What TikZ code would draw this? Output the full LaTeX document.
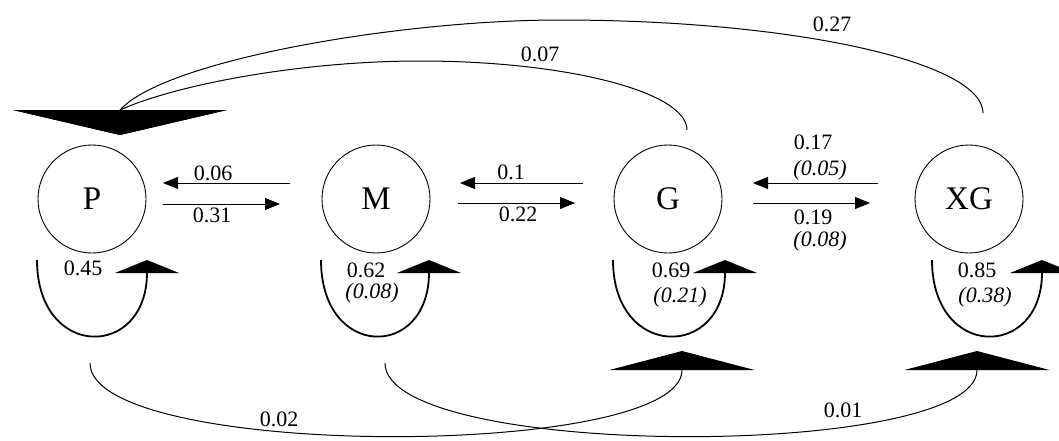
\documentclass[tikz,border=0pt]{standalone}
\usepackage{fontspec}
\setmainfont{Liberation Serif}
\usetikzlibrary{arrows.meta}
\begin{document}
\begin{tikzpicture}[x=1pt,y=-1pt,
  state/.style={circle,draw,line width=0.9pt,minimum size=108pt,inner sep=0pt,
    font=\fontsize{33}{36}\selectfont},
  lbl/.style={inner sep=0pt,font=\fontsize{22}{24}\selectfont},
  ilbl/.style={inner sep=0pt,font=\fontsize{22}{24}\selectfont\itshape},
  flow/.style={line width=0.9pt,-{Triangle[length=15pt,width=12pt]}},
  selfloop/.style={line width=1.8pt,-{Triangle[length=13pt,width=64pt]}},
  lowarc/.style={line width=1pt,-{Triangle[length=19pt,width=145pt]}},
  toparc/.style={line width=1pt,-{Triangle[length=25pt,width=214pt]}},
]
\useasboundingbox (0,0) rectangle (1059,440);

% states
\node[state] (P)  at (92,199)  {P};
\node[state] (M)  at (376,199) {M};
\node[state] (G)  at (668,199) {G};
\node[state] (XG) at (969,199) {XG};

% transitions between neighbouring states
\coordinate (pmA) at (290,183); \coordinate (pmB) at (163,183);
\coordinate (pmC) at (163,204); \coordinate (pmD) at (280,204);
\coordinate (mgA) at (583,183); \coordinate (mgB) at (460,183);
\coordinate (mgC) at (458,203); \coordinate (mgD) at (575,203);
\coordinate (gxA) at (878,183); \coordinate (gxB) at (753,183);
\coordinate (gxC) at (753,203); \coordinate (gxD) at (870,203);
\draw[flow] (pmA) -- (pmB);
\draw[flow] (pmC) -- (pmD);
\draw[flow] (mgA) -- (mgB);
\draw[flow] (mgC) -- (mgD);
\draw[flow] (gxA) -- (gxB);
\draw[flow] (gxC) -- (gxD);

\node[lbl]  (l06) at (213,173) {0.06};
\node[lbl]  (l31) at (212,215) {0.31};
\node[lbl]  (l10) at (511,172) {0.1};
\node[lbl]  (l22) at (518,214) {0.22};
\node[lbl]  (l17) at (813,142) {0.17};
\node[ilbl] (l05) at (820,170) {(0.05)};
\node[lbl]  (l19) at (813,217) {0.19};
\node[ilbl] (l08) at (820,241) {(0.08)};

% staying in the same state
\draw[selfloop] (37,260)  .. controls (37,360)  and (147,360)  .. (147,260);
\draw[selfloop] (321,260) .. controls (321,360) and (429,360)  .. (429,260);
\draw[selfloop] (613,260) .. controls (613,360) and (725,360)  .. (725,260);
\draw[selfloop] (932,260) .. controls (932,360) and (1042,360) .. (1042,260);

\node[lbl]  (s45) at (83,268)  {0.45};
\node[lbl]  (s62) at (366,270) {0.62};
\node[ilbl] (s08) at (372,293) {(0.08)};
\node[lbl]  (s69) at (671,270) {0.69};
\node[ilbl] (s21) at (680,297) {(0.21)};
\node[lbl]  (s85) at (977,270) {0.85};
\node[ilbl] (s38) at (985,297) {(0.38)};

% long jumps upwards (below the states)
\draw[lowarc] (90,363) .. controls (90,460) and (682,460) .. (682,370) -- (682,351);
\draw[lowarc] (385,363) .. controls (385,460) and (977,460) .. (977,370) -- (977,351);
\node[lbl] (j02) at (279,419) {0.02};
\node[lbl] (j01) at (843,410) {0.01};

% long jumps back to P (above the states)
\draw[toparc] (687,130) .. controls (687,92) and (567,61) .. (420,61)
  .. controls (300,61) and (175,85) .. (120,110) -- (120,135);
\draw[toparc] (983,113) .. controls (983,62) and (793,20) .. (560,20)
  .. controls (400,20) and (165,60) .. (120,110) -- (120,135);
\node[lbl] (b07) at (540,54) {0.07};
\node[lbl] (b27) at (832,24) {0.27};
\end{tikzpicture}
\end{document}
